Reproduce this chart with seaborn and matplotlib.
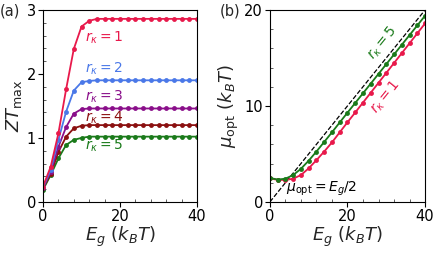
import matplotlib
matplotlib.use("Agg")
import matplotlib.pyplot as plt
from matplotlib.ticker import MultipleLocator
import seaborn as sns

## Data
eg = [0, 2, 4, 6, 8, 10, 12, 14, 16, 18, 20, 22, 24, 26, 28, 30, 32, 34, 36, 38, 40]

zt_r1 = [0.24, 0.55, 1.07, 1.76, 2.39, 2.74, 2.83, 2.86, 2.86, 2.86, 2.86,
         2.86, 2.86, 2.86, 2.86, 2.86, 2.86, 2.86, 2.86, 2.86, 2.86]
zt_r2 = [0.23, 0.50, 0.97, 1.41, 1.74, 1.87, 1.89, 1.90, 1.90, 1.90, 1.90,
         1.90, 1.90, 1.90, 1.90, 1.90, 1.90, 1.90, 1.90, 1.90, 1.90]
zt_r3 = [0.22, 0.47, 0.86, 1.17, 1.38, 1.45, 1.46, 1.46, 1.46, 1.46, 1.46,
         1.46, 1.46, 1.46, 1.46, 1.46, 1.46, 1.46, 1.46, 1.46, 1.46]
zt_r4 = [0.21, 0.44, 0.78, 1.02, 1.15, 1.19, 1.20, 1.20, 1.20, 1.20, 1.20,
         1.20, 1.20, 1.20, 1.20, 1.20, 1.20, 1.20, 1.20, 1.20, 1.20]
zt_r5 = [0.19, 0.42, 0.68, 0.89, 0.97, 1.00, 1.02, 1.02, 1.02, 1.02, 1.02,
         1.02, 1.02, 1.02, 1.02, 1.02, 1.02, 1.02, 1.02, 1.02, 1.02]

mu_r1 = [2.45, 2.30, 2.28, 2.42, 2.80, 3.50, 4.35, 5.25, 6.20, 7.25, 8.30,
         9.32, 10.35, 11.38, 12.41, 13.44, 14.47, 15.50, 16.53, 17.56, 18.60]
mu_r5 = [2.50, 2.33, 2.42, 2.80, 3.45, 4.30, 5.25, 6.25, 7.25, 8.28, 9.30,
         10.31, 11.32, 12.33, 13.34, 14.35, 15.36, 16.37, 17.38, 18.39, 19.40]

half_eg = [0, 20]
half_x = [0, 40]

r_labels = ["1", "2", "3", "4", "5"]
colors = ["#e8194b", "#4a78e8", "#8a0f8a", "#8b1010", "#1a7a1a"]

sns.set_style("ticks")
plt.rcParams['font.family'] = ['DejaVu Sans']
plt.rcParams['mathtext.fontset'] = 'dejavusans'

fig = plt.figure(figsize=(4.36, 2.54), dpi=100)
ax1 = fig.add_axes([0.0986, 0.205, 0.3534, 0.756])
ax2 = fig.add_axes([0.619, 0.205, 0.356, 0.756])

# (a) ZT_max vs Eg
zt_all = [zt_r1, zt_r2, zt_r3, zt_r4, zt_r5]
for zt, c in list(zip(zt_all, colors))[::-1]:
    sns.lineplot(x=eg, y=zt, ax=ax1, color=c, marker='o', markersize=3.5,
                 markeredgewidth=0, linewidth=1.3)

lab_y = [2.57, 2.08, 1.64, 1.31, 0.88]
for r, c, y in zip(r_labels, colors, lab_y):
    ax1.text(11, y, r'$r_\kappa = %s$' % r, color=c, fontsize=10, va='center')

ax1.set_xlim(0, 40)
ax1.set_ylim(0, 3)
ax1.xaxis.set_major_locator(MultipleLocator(20))
ax1.xaxis.set_minor_locator(MultipleLocator(4))
ax1.yaxis.set_major_locator(MultipleLocator(1))
ax1.yaxis.set_minor_locator(MultipleLocator(0.2))
ax1.set_xlabel(r'$E_g\ (k_BT)$', fontsize=13, labelpad=1)
ax1.set_ylabel(r'$ZT_{\rm max}$', fontsize=13, labelpad=2)

# (b) mu_opt vs Eg
sns.lineplot(x=half_x, y=half_eg, ax=ax2, color='black', linestyle='--', linewidth=0.9)
sns.lineplot(x=eg, y=mu_r1, ax=ax2, color=colors[0], marker='o', markersize=3.5,
             markeredgewidth=0, linewidth=1.3)
sns.lineplot(x=eg, y=mu_r5, ax=ax2, color=colors[4], marker='o', markersize=3.5,
             markeredgewidth=0, linewidth=1.3)

ax2.text(29.2, 16.6, r'$r_\kappa = 5$', color=colors[4], fontsize=10,
         rotation=51, ha='center', va='center')
ax2.text(29.8, 10.9, r'$r_\kappa = 1$', color=colors[0], fontsize=10,
         rotation=51, ha='center', va='center')
ax2.text(4.2, 1.4, r'$\mu_{\rm opt} = E_g/2$', color='black', fontsize=10, va='center')

ax2.set_xlim(0, 40)
ax2.set_ylim(0, 20)
ax2.xaxis.set_major_locator(MultipleLocator(20))
ax2.xaxis.set_minor_locator(MultipleLocator(4))
ax2.yaxis.set_major_locator(MultipleLocator(10))
ax2.yaxis.set_minor_locator(MultipleLocator(2))
ax2.set_xlabel(r'$E_g\ (k_BT)$', fontsize=13, labelpad=1)
ax2.set_ylabel(r'$\mu_{\rm opt}\ (k_BT)$', fontsize=13, labelpad=2)

for ax in (ax1, ax2):
    for s in ax.spines.values():
        s.set_visible(True)
        s.set_color('black')
        s.set_linewidth(0.8)
    ax.tick_params(which='major', direction='out', length=3.5, width=0.8,
                   labelsize=10.5, colors='black', pad=1.5)
    ax.tick_params(which='minor', direction='in', length=2, width=0.6, colors='#444444')

fig.text(0.0, 0.985, '(a)', fontsize=10.5, va='top', ha='left')
fig.text(0.503, 0.985, '(b)', fontsize=10.5, va='top', ha='left')

fig.savefig('out.png', dpi=100)
